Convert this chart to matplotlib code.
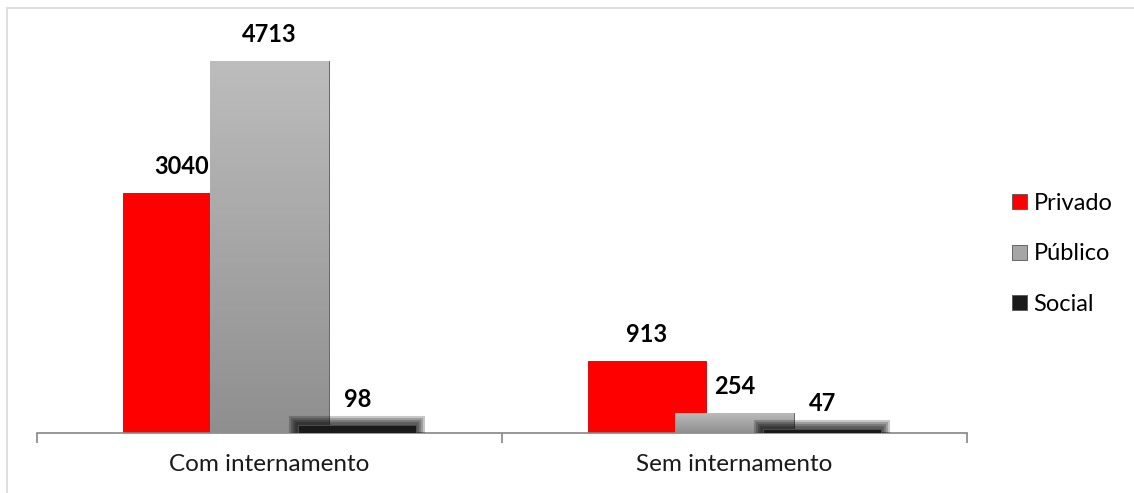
import numpy as np
import matplotlib
matplotlib.use("Agg")
import matplotlib.pyplot as plt
import matplotlib.patheffects as pe
from matplotlib.patches import Rectangle, Patch

plt.rcParams['font.family'] = ['Lato', 'DejaVu Sans']

categories = ["Com internamento", "Sem internamento"]
series_names = ["Privado", "Público", "Social"]
privado = [3040, 913]
publico = [4713, 254]
social = [98, 47]
values = [privado, publico, social]
colors = ["#ff0000", "#a6a6a6", "#1a1a1a"]

fig = plt.figure(figsize=(11.34, 4.93), dpi=100)
# chart border (only top and left visible inside the image)
fig.patches.append(Rectangle((7/1134, -0.1), 1.2, 1.1 - 8/493, transform=fig.transFigure,
                             fill=False, edgecolor="#d9d9d9", linewidth=1.2, zorder=0))

ax = fig.add_axes([37/1134, 1 - 433/493, (967 - 37)/1134, 394.5/493])

x = np.arange(len(categories))
offset = 0.189
width = 0.254

for i, (name, vals, col) in enumerate(zip(series_names, values, colors)):
    pos = x + (i - 1) * offset
    bars = ax.bar(pos, vals, width=width, color=col, zorder=2 + i,
                  edgecolor="#555555" if i > 0 else "#cc0000", linewidth=0.6)
    for b in bars:
        if i == 2:
            b.set_path_effects([pe.Stroke(linewidth=lw, foreground="black", alpha=0.22)
                                for lw in (13, 10, 7, 4)] + [pe.Normal()])
        x0, y0 = b.get_x(), b.get_y()
        w, h = b.get_width(), b.get_height()
        if i == 1:
            grad = np.linspace(0.74, 0.56, 100).reshape(-1, 1)
            im = ax.imshow(np.dstack([grad, grad, grad]), extent=(x0, x0 + w, y0, y0 + h),
                           aspect="auto", origin="upper", zorder=2 + i + 0.1)
            im.set_clip_path(b)
    for p, v in zip(pos, vals):
        ax.annotate(str(v), (p, v), xytext=(0, 13.5), textcoords="offset points",
                    ha="center", va="baseline", fontsize=17, fontweight="bold",
                    color="black", zorder=10)

ax.set_xlim(-0.5, 1.5)
ax.set_ylim(0, 5000)

for s in ["top", "right", "left"]:
    ax.spines[s].set_visible(False)
ax.spines["bottom"].set_color("#868686")
ax.spines["bottom"].set_linewidth(1.2)
ax.set_yticks([])
ax.set_xticks([-0.5, 0.5, 1.5])
ax.set_xticklabels([])
ax.tick_params(axis="x", which="major", length=7, color="#868686", width=1.2)
ax.set_xticks(x, minor=True)
ax.set_xticklabels(categories, minor=True, fontsize=17.5, color="#1a1a1a")
ax.tick_params(axis="x", which="minor", length=0, pad=15)

handles = [Patch(facecolor=c, edgecolor="#555555", linewidth=0.6) for c in colors]
fig.legend(handles, series_names, loc="center left", bbox_to_anchor=(1003/1134, 1 - 254/493),
           frameon=False, fontsize=17, handlelength=0.6, handleheight=0.6,
           handletextpad=0.3, labelspacing=1.25, borderaxespad=0)

fig.savefig("out.png", dpi=100)
